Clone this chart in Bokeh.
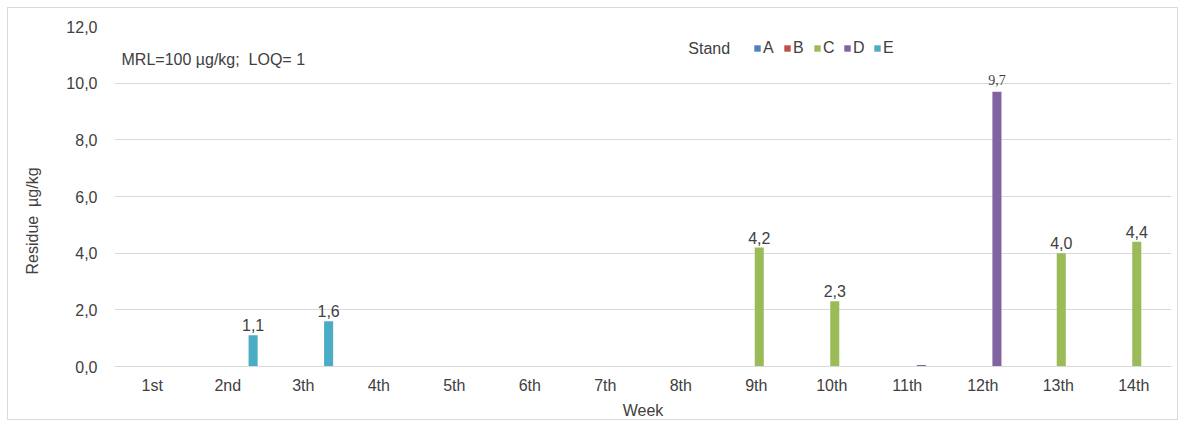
from bokeh.plotting import figure
from bokeh.models import ColumnDataSource, FactorRange, Label, Legend, LegendItem, FixedTicker
from bokeh.transform import dodge
from bokeh.core.properties import value
from bokeh.embed import file_html
from bokeh.resources import INLINE

weeks = ["1st", "2nd", "3th", "4th", "5th", "6th", "7th", "8th", "9th", "10th", "11th", "12th", "13th", "14th"]
stands = ["A", "B", "C", "D", "E"]
stand_A = [0, 0, 0, 0, 0, 0, 0, 0, 0, 0, 0, 0, 0, 0]
stand_B = [0, 0, 0, 0, 0, 0, 0, 0, 0, 0, 0, 0, 0, 0]
stand_C = [0, 0, 0, 0, 0, 0, 0, 0, 4.2, 2.3, 0, 0, 4.0, 4.4]
stand_D = [0, 0, 0, 0, 0, 0, 0, 0, 0, 0, 0.05, 9.7, 0, 0]
stand_E = [0, 1.1, 1.6, 0, 0, 0, 0, 0, 0, 0, 0, 0, 0, 0]
colors = ["#4F81BD", "#C0504D", "#9BBB59", "#8064A2", "#4BACC6"]
y_ticks = [0, 2, 4, 6, 8, 10, 12]

series = [stand_A, stand_B, stand_C, stand_D, stand_E]
data = {"week": weeks}
for s, vals in zip(stands, series):
    data[s] = vals
source = ColumnDataSource(data)

FONT = "Liberation Sans"
FS = "16px"
TXT = "#404040"
p = figure(x_range=FactorRange(*weeks, range_padding=0), y_range=(0, 12),
           width=1171, height=413, output_backend="svg", toolbar_location=None,
           min_border_left=106, min_border_right=8, min_border_top=18, min_border_bottom=52)
p.styles = {"margin-left": "7px", "margin-top": "7px", "border": "1px solid #d9d9d9"}
p.outline_line_color = None
p.x_range.range_padding = 0

offsets = [(i - 2) * 0.148 + 0.04 for i in range(5)]
renderers = []
for s, off, c in zip(stands, offsets, colors):
    r = p.vbar(x=dodge("week", off, range=p.x_range), top=s, width=0.12, source=source,
               fill_color=c, line_color=None)
    renderers.append(r)

# data labels
for s, off, vals in zip(stands, offsets, series):
    xs, ys, ts = [], [], []
    for w, v in zip(weeks, vals):
        if v >= 0.5:
            xs.append(w); ys.append(v); ts.append(("%.1f" % v).replace(".", ","))
    if not xs:
        continue
    big = [t == "9,7" for t in ts]
    lsrc = ColumnDataSource(dict(x=[x for x, b in zip(xs, big) if not b], y=[y for y, b in zip(ys, big) if not b],
                                 t=[t for t, b in zip(ts, big) if not b]))
    p.text(x=dodge("x", off, range=p.x_range), y="y", text="t", source=lsrc, text_align="center",
           text_baseline="alphabetic", y_offset=-10, text_font=value(FONT), text_font_size=FS, text_color=TXT)
    ssrc = ColumnDataSource(dict(x=[x for x, b in zip(xs, big) if b], y=[y for y, b in zip(ys, big) if b],
                                 t=[t for t, b in zip(ts, big) if b]))
    p.text(x=dodge("x", off, range=p.x_range), y="y", text="t", source=ssrc, text_align="center",
           text_baseline="alphabetic", y_offset=-12, text_font=value("Liberation Serif"), text_font_size="14px",
           text_color=TXT)

p.xgrid.grid_line_color = None
p.ygrid.grid_line_color = "#d9d9d9"
p.yaxis.ticker = FixedTicker(ticks=y_ticks)
p.yaxis.major_label_overrides = {t: ("%.1f" % t).replace(".", ",") for t in y_ticks}
for ax in (p.xaxis[0], p.yaxis[0]):
    ax.major_tick_line_color = None
    ax.minor_tick_line_color = None
    ax.major_tick_out = 0
    ax.major_tick_in = 0
    ax.major_label_text_font = FONT
    ax.major_label_text_font_size = FS
    ax.major_label_text_color = TXT
    ax.axis_label_text_font = FONT
    ax.axis_label_text_font_style = "normal"
    ax.axis_label_text_color = TXT
    ax.axis_label_text_font_size = FS
p.yaxis.axis_line_color = None
p.xaxis.axis_line_color = "#d9d9d9"
p.yaxis.major_label_standoff = 17
p.xaxis.major_label_standoff = 10
p.xaxis.axis_label = "Week"
p.xaxis.axis_label_standoff = 5
# trailing non-breaking spaces shift the visible title towards the bottom, as in the reference
p.yaxis.axis_label = "Residue\u00a0\u00a0µg/kg" + "\u00a0" * 11
p.yaxis.axis_label_standoff = 22

p.add_layout(Label(x=0.093, y=10.84, text="MRL=100 µg/kg;\u00a0\u00a0LOQ= 1", text_font=FONT,
                   text_font_size=FS, text_color=TXT, text_baseline="middle"))
p.add_layout(Label(x=7.60, y=11.23, text="Stand", text_font=FONT,
                   text_font_size=FS, text_color=TXT, text_baseline="middle"))

legend = Legend(items=[LegendItem(label=s, renderers=[r]) for s, r in zip(stands, renderers)],
                orientation="horizontal", location=(639, 309), padding=0, margin=0,
                glyph_width=8, glyph_height=8, label_standoff=2, spacing=0,
                label_text_font=FONT, label_text_font_size=FS, label_text_color=TXT,
                label_height=18, border_line_color=None, background_fill_alpha=0)
p.add_layout(legend)

open("out.html", "w").write(file_html(p, INLINE))
